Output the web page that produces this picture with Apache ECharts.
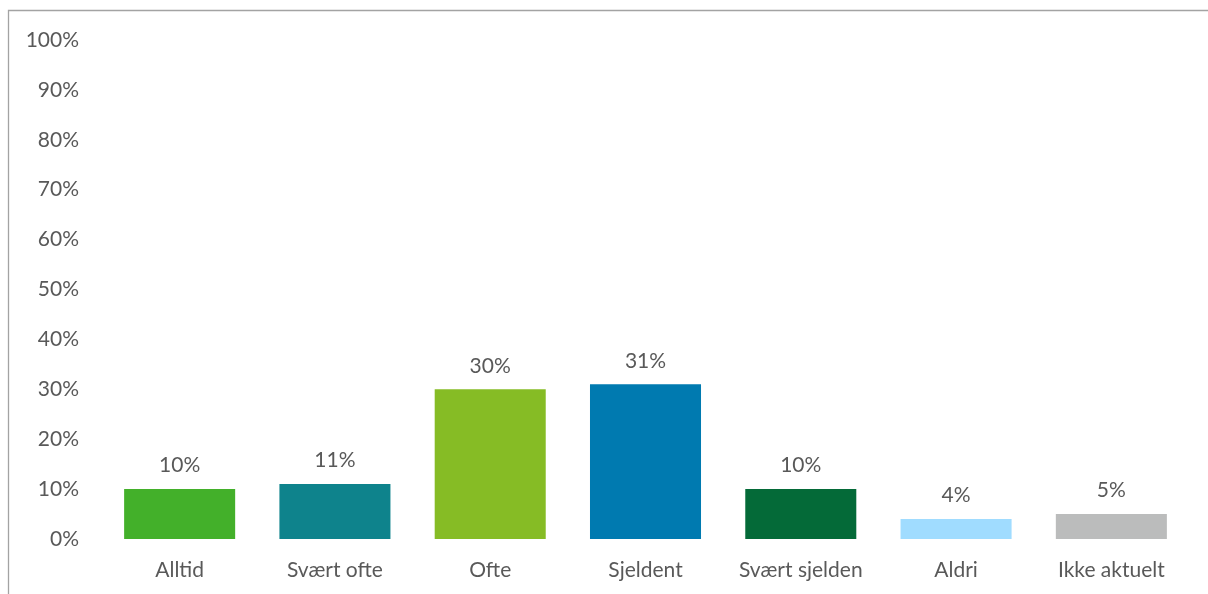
<!DOCTYPE html>
<html>
<head>
<meta charset="utf-8">
<script src="https://cdn.jsdelivr.net/npm/echarts@6/dist/echarts.min.js"></script>
<style>
  html, body { margin: 0; padding: 0; background: #ffffff; }
  #chart { width: 1208px; height: 594px; }
</style>
</head>
<body>
<div id="chart"></div>
<script>
// Survey answers: share of respondents per frequency category
const categories = ['Alltid', 'Svært ofte', 'Ofte', 'Sjeldent', 'Svært sjelden', 'Aldri', 'Ikke aktuelt'];
const shares = [10, 11, 30, 31, 10, 4, 5];
const barColors = ['#43B02A', '#0E838C', '#86BC25', '#007AB0', '#046A38', '#A0DCFF', '#BBBCBC'];

const textColor = '#595959';
const fontFamily = 'Lato, "Open Sans", sans-serif';
const fontSize = 21;

const chart = echarts.init(document.getElementById('chart'), null, { renderer: 'canvas' });

chart.setOption({
  backgroundColor: '#ffffff',
  animation: false,
  grid: { left: 102, right: 19, top: 40, bottom: 55, containLabel: false },
  xAxis: {
    type: 'category',
    data: categories,
    axisLine: { show: false },
    axisTick: { show: false },
    axisLabel: {
      interval: 0,
      hideOverlap: false,
      color: textColor, fontSize: fontSize, fontFamily: fontFamily, margin: 21
    }
  },
  yAxis: {
    type: 'value',
    min: 0,
    max: 100,
    interval: 10,
    axisLine: { show: false },
    axisTick: { show: false },
    splitLine: { show: false },
    axisLabel: {
      color: textColor, fontSize: fontSize, fontFamily: fontFamily, margin: 23,
      formatter: v => v + '%'
    }
  },
  series: [{
    type: 'bar',
    barWidth: '71.5%',
    data: shares.map((v, i) => ({ value: v, itemStyle: { color: barColors[i] } })),
    label: {
      show: true,
      position: 'top',
      distance: 13,
      color: textColor,
      fontSize: fontSize,
      fontFamily: fontFamily,
      formatter: p => p.value + '%'
    }
  }],
  graphic: [
    {
      type: 'polyline',
      silent: true,
      shape: { points: [[8.5, 594], [8.5, 10.5], [1208, 10.5]] },
      style: { stroke: '#A3A3A3', lineWidth: 1.3, fill: null }
    }
  ]
});
</script>
</body>
</html>
